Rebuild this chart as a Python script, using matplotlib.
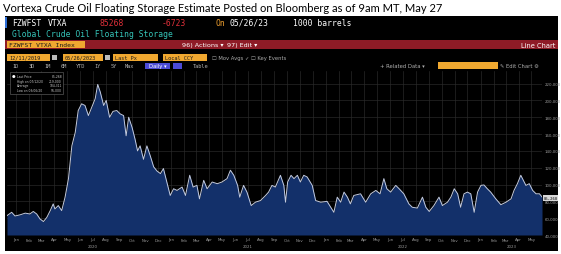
import matplotlib
matplotlib.use("Agg")
import matplotlib.pyplot as plt
import matplotlib.dates as mdates
import matplotlib.transforms as mtransforms
from matplotlib.patches import Rectangle
import pandas as pd

W, H = 561, 255

# floating storage, million barrels
dates = [
    "2019-12-11", "2019-12-22", "2019-12-30", "2020-01-11", "2020-01-23", "2020-02-03",
    "2020-02-11", "2020-02-19", "2020-02-27", "2020-03-06", "2020-03-14", "2020-03-22",
    "2020-03-29", "2020-04-02", "2020-04-10", "2020-04-18", "2020-04-26", "2020-05-04",
    "2020-05-12", "2020-05-20", "2020-05-27", "2020-06-04", "2020-06-12", "2020-06-20",
    "2020-06-28", "2020-07-06", "2020-07-12", "2020-07-18", "2020-07-26", "2020-08-01",
    "2020-08-09", "2020-08-17", "2020-08-26", "2020-09-03", "2020-09-11", "2020-09-17",
    "2020-09-23", "2020-10-01", "2020-10-08", "2020-10-14", "2020-10-20", "2020-10-28",
    "2020-11-05", "2020-11-13", "2020-11-21", "2020-11-29", "2020-12-07", "2020-12-14",
    "2020-12-22", "2020-12-30", "2021-01-07", "2021-01-15", "2021-01-27", "2021-02-04",
    "2021-02-14", "2021-02-22", "2021-03-03", "2021-03-09", "2021-03-19", "2021-03-27",
    "2021-04-08", "2021-04-20", "2021-05-01", "2021-05-13", "2021-05-21", "2021-05-29",
    "2021-06-07", "2021-06-12", "2021-06-21", "2021-06-29", "2021-07-09", "2021-07-19",
    "2021-07-31", "2021-08-12", "2021-08-19", "2021-08-27", "2021-09-04", "2021-09-16",
    "2021-09-24", "2021-09-28", "2021-10-03", "2021-10-11", "2021-10-18", "2021-10-26",
    "2021-11-02", "2021-11-10", "2021-11-18", "2021-11-30", "2021-12-08", "2021-12-20",
    "2022-01-04", "2022-01-20", "2022-01-28", "2022-02-05", "2022-02-13", "2022-02-21",
    "2022-02-28", "2022-03-08", "2022-03-24", "2022-04-05", "2022-04-17", "2022-04-29",
    "2022-05-09", "2022-05-18", "2022-05-25", "2022-06-03", "2022-06-15", "2022-06-23",
    "2022-07-04", "2022-07-16", "2022-07-24", "2022-08-05", "2022-08-17", "2022-08-25",
    "2022-09-02", "2022-09-13", "2022-09-25", "2022-10-03", "2022-10-15", "2022-10-23",
    "2022-10-31", "2022-11-08", "2022-11-15", "2022-11-23", "2022-12-01", "2022-12-09",
    "2022-12-17", "2022-12-25", "2023-01-02", "2023-01-09", "2023-01-17", "2023-01-25",
    "2023-02-06", "2023-02-18", "2023-03-02", "2023-03-14", "2023-03-21", "2023-03-29",
    "2023-04-06", "2023-04-12", "2023-04-18", "2023-04-26", "2023-05-04", "2023-05-12",
    "2023-05-20", "2023-05-26",
]
storage = [
    63, 67, 62.6, 64, 66, 65,
    68, 65, 59, 56, 61, 69,
    77, 71, 75, 69, 85, 107,
    146, 162, 188, 196, 194, 182,
    192, 202, 219, 210, 194, 200,
    180, 187, 188, 184, 182, 158,
    180, 168, 154, 140, 146, 130,
    146, 134, 121, 116, 113, 119,
    103, 87, 95, 93, 97, 87,
    111, 97, 99, 83, 105, 95,
    103, 101, 103, 107, 117, 111,
    99, 85, 99, 91, 75, 79,
    81, 87, 91, 99, 97, 111,
    99, 79, 103, 111, 107, 111,
    103, 111, 109, 99, 81, 79,
    80, 67, 85, 79, 91, 85,
    77, 87, 89, 79, 89, 93,
    89, 107, 95, 91, 99, 95,
    89, 77, 73, 72, 85, 73,
    68, 75, 85, 75, 79, 85,
    95, 89, 73, 89, 91, 89,
    67, 91, 99, 99.5, 95, 91,
    83, 76, 79, 83, 93, 101,
    111, 105, 99, 101, 93, 89,
    89, 85.268,
]

y_ticks = [40, 60, 80, 100, 120, 140, 160, 180, 200, 220]
years = ["2020", "2021", "2022", "2023"]
year_centers = ["2020-07-01", "2021-07-01", "2022-07-01", "2023-03-15"]
last_value = 85268
change = -6723
tabs = ["1D", "3D", "1M", "6M", "YTD", "1Y", "5Y", "Max"]

d = pd.to_datetime(dates)
s = pd.Series(storage, index=d)


def px(x):
    return x / W


def py(y):
    return 1 - y / H


def box(x0, y0, x1, y1, color, z=-1, **kw):
    fig.patches.append(Rectangle((px(x0), py(y1)), (x1 - x0) / W, (y1 - y0) / H,
                                 transform=fig.transFigure, facecolor=color,
                                 edgecolor=kw.pop("ec", "none"), zorder=z, **kw))


def txt(x, y, t, **kw):
    kw.setdefault("va", "center")
    kw.setdefault("family", "DejaVu Sans Mono")
    fig.text(px(x), py(y), t, **kw)


fig = plt.figure(figsize=(W / 100, H / 100), dpi=100)
fig.patch.set_facecolor("white")

# title above the screenshot
txt(3, 9, "Vortexa Crude Oil Floating Storage Estimate Posted on Bloomberg as of 9am MT, May 27",
    fontsize=8, family="Lato", color="black")

# terminal background
box(5, 17, 558, 252, "black", z=-2)
box(5, 18, 7, 29, "#2f6fd6")

# header rows
txt(12, 23, "FZWFST", color="white", fontsize=5.8)
txt(48, 23, "VTXA", color="white", fontsize=5.8)
txt(100, 23, str(last_value), color="#e0303a", fontsize=5.8)
txt(162, 23, str(change), color="#e0303a", fontsize=5.8)
txt(215, 23, "On", color="#f0a030", fontsize=5.8)
txt(230, 23, d[-1].strftime("%m/%d/%y"), color="white", fontsize=5.8)
txt(293, 23, "1000 barrels", color="white", fontsize=5.8)
txt(12, 35, "Global Crude Oil Floating Storage", color="#35c4b8", fontsize=5.8)

# red action bar
box(5, 41, 558, 50, "#8e1b26")
box(7, 42, 85, 49, "#f0a830")
txt(9, 45.5, "FZWFST VTXA Index", color="#1a1a1a", fontsize=4.6)
txt(182, 45.5, "96) Actions \u25be", color="white", fontsize=4.6, family="DejaVu Sans")
txt(227, 45.5, "97) Edit \u25be", color="white", fontsize=4.6, family="DejaVu Sans")
txt(555, 45.5, "Line Chart", color="white", fontsize=4.8, family="DejaVu Sans", ha="right")

# date / field row
row3 = [(7, 50, d[0].strftime("%m/%d/%Y")), (63, 103, d[-1].strftime("%m/%d/%Y")),
        (113, 158, "Last Px"), (163, 207, "Local CCY")]
for x0, x1, lab in row3:
    box(x0, 55, x1, 61.5, "#f0a830")
    txt(x0 + 2, 58.2, lab, color="#1a1a1a", fontsize=3.8)
box(52, 56, 57, 61, "#bbbbbb")
box(105, 56, 110, 61, "#bbbbbb")
txt(212, 58.2, "\u2610 Mov Avgs \u2713 \u2610 Key Events", color="#aaaaaa", fontsize=3.8,
    family="DejaVu Sans")

# tab row
for i, t in enumerate(tabs):
    txt(15 + i * 16.4, 67, t, color="#b0b0b0", fontsize=3.8, ha="center")
box(145, 64, 170, 70, "#4b4bd6")
txt(157.5, 67, "Daily \u25be", color="white", fontsize=3.8, ha="center", family="DejaVu Sans")
box(173, 64, 182, 70, "#4b4bd6")
txt(193, 67, "Table", color="#b0b0b0", fontsize=3.8)
txt(380, 67, "+ Related Data \u25be", color="#b0b0b0", fontsize=3.8, family="DejaVu Sans")
box(438, 63, 498, 69.5, "#f0a830")
txt(500, 67, "\u270e Edit Chart \u2699", color="#b0b0b0", fontsize=3.8, family="DejaVu Sans")

# chart
ax = fig.add_axes([px(7), py(236), px(542) - px(7), py(72) - py(236)])
ax.set_facecolor("black")
ax.fill_between(d, storage, 40, color="#13306a", lw=0)
ax.plot(d, storage, color="#c3cbe0", lw=0.7)
ax.set_xlim(d[0], d[-1])
ax.set_ylim(40, 235)

ax.yaxis.tick_right()
ax.set_yticks(y_ticks)
ax.set_yticklabels([f"{v * 1000:,.0f}" for v in y_ticks])
ax.xaxis.set_major_locator(mdates.MonthLocator())
ax.xaxis.set_major_formatter(mdates.DateFormatter("%b"))
ax.tick_params(axis="both", labelsize=2.8, colors="#9a9a9a", length=0, pad=1.8)
ax.grid(True, color="#2c2c2c", lw=0.45)
ax.set_axisbelow(True)
for sp in ax.spines.values():
    sp.set_visible(False)

trans = mtransforms.blended_transform_factory(ax.transData, ax.transAxes)
for yr, c in zip(years, year_centers):
    ax.text(mdates.date2num(pd.Timestamp(c)), -0.07, yr, transform=trans, ha="center",
            va="center", fontsize=2.8, color="#9a9a9a", clip_on=False)

# last value marker on the right axis
box(543, 196, 558, 202, "#d8d8d8", z=3)
txt(550.5, 199, f"{last_value:,}", color="black", fontsize=2.8, ha="center", zorder=4)

# legend box
box(10, 73, 63, 95, "black", z=3, ec="#555555", lw=0.5)
hi_d, lo_d = s.idxmax(), s.idxmin()
legend_rows = [("Last Price", f"{last_value:,}"),
               ("High on " + hi_d.strftime("%m/%d/%y"), f"{s.max() * 1000:,.0f}"),
               ("Average", f"{s.mean() * 1000:,.0f}"),
               ("Low on " + lo_d.strftime("%m/%d/%y"), f"{s.min() * 1000:,.0f}")]
for i, (lab, val) in enumerate(legend_rows):
    yy = 77 + i * 4.6
    txt(17, yy, lab, color="#cccccc", fontsize=2.2, family="DejaVu Sans", zorder=4)
    txt(62, yy, val, color="#cccccc", fontsize=2.2, family="DejaVu Sans", ha="right", zorder=4)
txt(13.5, 77, "\u25cf", color="white", fontsize=3, family="DejaVu Sans", ha="center", zorder=4)

fig.savefig("out.png", dpi=100, facecolor=fig.get_facecolor())
